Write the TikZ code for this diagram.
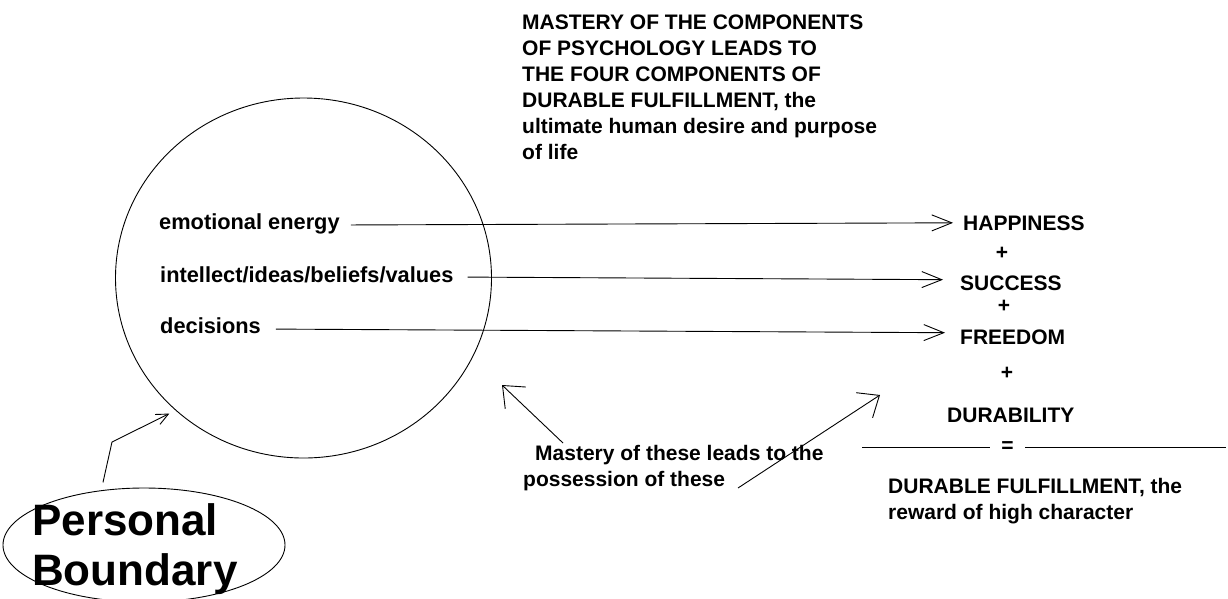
\documentclass[tikz,border=0pt]{standalone}
\usepackage{fontspec}
\setmainfont{Liberation Sans}
\usetikzlibrary{arrows.meta,shapes.geometric}
\begin{document}
\begin{tikzpicture}[x=1pt,y=-1pt,
  txt/.style={inner sep=0pt, font=\fontsize{21}{26}\selectfont\bfseries, align=left},
  ctxt/.style={txt, font=\fontsize{21.8}{26}\selectfont\bfseries},
  big/.style={inner sep=0pt, font=\fontsize{44}{50}\selectfont\bfseries, align=left},
  conn/.style={line width=0.9pt},
  harrow/.style={conn, -{Straight Barb[length=20pt,width=16pt]}},
  marrow/.style={conn, -{Straight Barb[length=18pt,width=30pt]}},
  sarrow/.style={conn, -{Straight Barb[length=12pt,width=11pt]}},
  ring/.style={draw, conn, ellipse, inner sep=0pt}
]
\useasboundingbox (0,0) rectangle (1228,598);
\fill[white] (0,0) rectangle (1228,598);

% heading
\node[txt, anchor=north west] (title) at (522,15) {MASTERY OF THE COMPONENTS\\OF PSYCHOLOGY LEADS TO\\THE FOUR COMPONENTS OF\\DURABLE FULFILLMENT, the\\ultimate human desire and purpose\\of life};

% personal boundary circle
\node[ring, minimum width=376pt, minimum height=360pt] (circ) at (303.5,278) {};
\node[ctxt, anchor=base west] (emo) at (159,229) {emotional energy};
\node[ctxt, anchor=base west] (intel) at (160,282) {intellect/ideas/beliefs/values};
\node[ctxt, anchor=base west] (dec) at (160,333) {decisions};

% right column
\node[txt, anchor=base west] (happ) at (963,230) {HAPPINESS};
\node[txt] (p1) at (1002,253) {+};
\node[txt, anchor=base west] (succ) at (960,290) {SUCCESS};
\node[txt] (p2) at (1004,306) {+};
\node[txt, anchor=base west] (free) at (960,344) {FREEDOM};
\node[txt] (p3) at (1007,373) {+};
\node[txt, anchor=base west] (dur) at (947,422) {DURABILITY};
\node[txt, minimum width=35pt] (eq) at (1007.5,447) {=};
\coordinate (fracL) at (862,447);
\coordinate (fracR) at (1226,447);
\draw[conn] (fracL) -- (eq.west);
\draw[conn] (eq.east) -- (fracR);
\node[txt, anchor=north west] (res) at (888,478) {DURABLE FULFILLMENT, the\\reward of high character};

% mastery note
\node[txt, anchor=north west] (mast) at (523,445) {\hspace*{12pt}Mastery of these leads to the\\possession of these};
\coordinate (mtipL) at (502,385);
\coordinate (mtipR) at (880,395);
\draw[marrow] ([shift={(40,-2)}]mast.north west) -- (mtipL);
\draw[marrow] ([shift={(215,43)}]mast.north west) -- (mtipR);

% personal boundary label
\node[big, anchor=north west] (pb) at (32,503) {Personal\\Boundary};
\node[ring, minimum width=282pt, minimum height=114pt] (pbring) at (144,545) {};
\coordinate (pbbend) at (112,442);
\draw[sarrow, shorten <=8pt, shorten >=7pt] (pbring.128) -- (pbbend) -- (circ.226);

% component arrows
\draw[harrow, shorten <=11pt, shorten >=10pt] ([yshift=4pt]emo.base east) -- (happ.west);
\draw[harrow, shorten <=14pt, shorten >=17pt] ([yshift=5pt]intel.base east) -- ([yshift=3pt]succ.west);
\draw[harrow, shorten <=15pt, shorten >=15pt] ([yshift=4pt]dec.base east) -- ([yshift=4pt]free.west);
\end{tikzpicture}
\end{document}
